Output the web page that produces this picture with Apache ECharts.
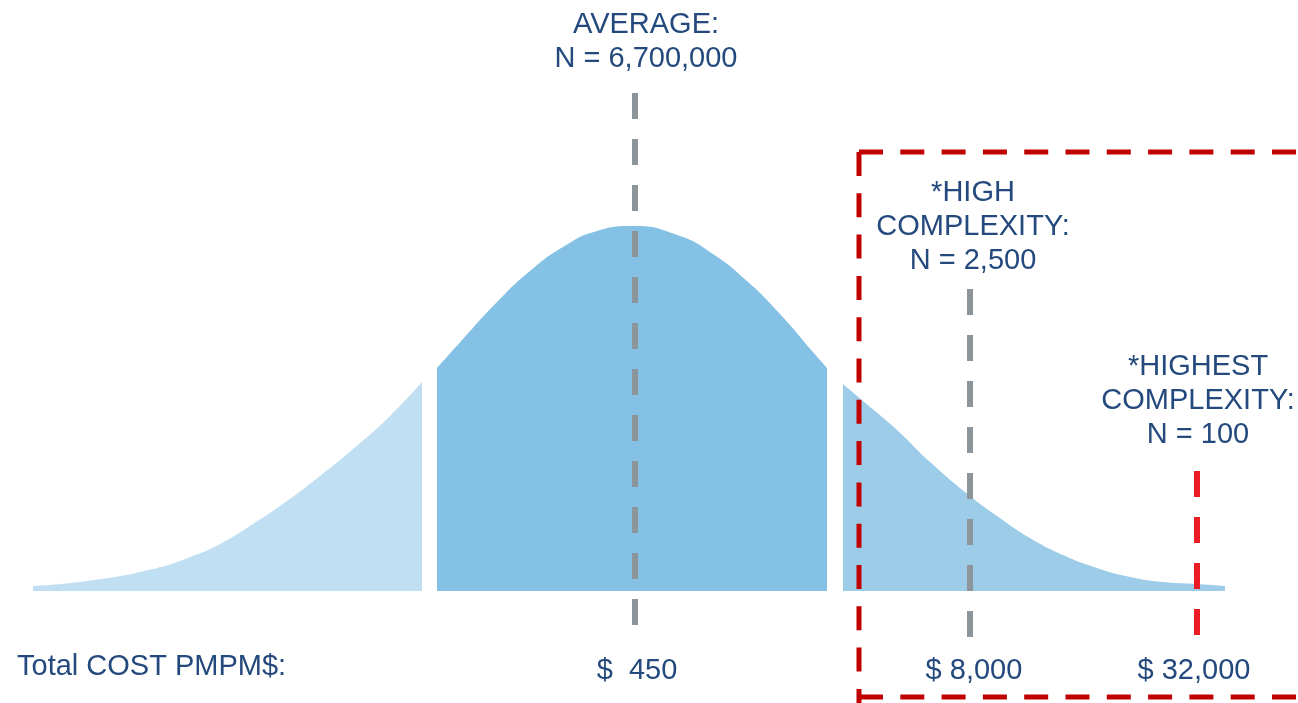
<!DOCTYPE html>
<html>
<head>
<meta charset="utf-8">
<title>Total cost PMPM distribution</title>
<script src="https://cdn.jsdelivr.net/npm/echarts@6/dist/echarts.min.js"></script>
<style>
  html, body { margin: 0; padding: 0; background: #fff; }
  #main { width: 1298px; height: 703px; }
</style>
</head>
<body>
<div id="main"></div>
<script>
// curve: [position, height], split in three bands
const leftBand = [[33, 5], [87, 10], [153, 22], [193, 35], [220, 47], [253, 67], [287, 90],
  [320, 115], [353, 142], [387, 172], [422, 209]];
const middleBand = [[437, 223], [463, 252], [497, 289], [530, 320], [563, 344], [597, 360],
  [633, 365], [680, 355], [713, 337], [747, 310], [780, 277], [813, 239], [827, 223]];
const rightBand = [[843, 207], [863, 190], [897, 161], [930, 129], [970, 95], [997, 75],
  [1030, 53], [1063, 36], [1097, 23], [1130, 14], [1163, 9], [1197, 7], [1225, 5]];

// markers: position on the curve, top / bottom of the dashed line
const markerX = [635, 970, 1197];
const markerTop = [498, 302, 120];
const markerBottom = [-46, -51, -46];
const markerTitles = ['AVERAGE:\nN = 6,700,000', '*HIGH\nCOMPLEXITY:\nN = 2,500', '*HIGHEST\nCOMPLEXITY:\nN = 100'];
const costLabels = ['$  450', '$ 8,000', '$ 32,000'];
const axisTitle = 'Total COST PMPM$:';

const TEXT = '#24497d';
const FONT = 'Liberation Sans, Arial, sans-serif';

let chart = echarts.init(document.getElementById('main'));

function band(name, data, color) {
    return {
        name: name,
        type: 'line',
        data: data,
        smooth: 0.5,
        symbol: 'none',
        lineStyle: { width: 0, opacity: 0 },
        areaStyle: { color: color, opacity: 1 },
        silent: true,
    };
}

const markerColors = ['#8b959a', '#8b959a', '#ec1c24'];
let markData = markerX.map((x, i) => [
    { coord: [x, markerTop[i]], lineStyle: { color: markerColors[i], width: 6, type: [26, 20] } },
    { coord: [x, markerBottom[i]] },
]);

let option = {
    animation: false,
    grid: { left: 0, right: 0, top: 0, bottom: 0 },
    xAxis: { type: 'value', min: 0, max: 1298, show: false },
    yAxis: { type: 'value', min: -112, max: 591, show: false },
    series: [
        band('low', leftBand, '#c0dff2'),
        band('average', middleBand, '#85c1e5'),
        band('high', rightBand, '#9dcce9'),
        {
            name: 'markers',
            type: 'line',
            data: [],
            markLine: {
                silent: true,
                symbol: 'none',
                label: { show: false },
                data: markData,
            },
        },
    ],
};
chart.setOption(option);

// annotations placed from the marker positions
let px = markerX.map(x => chart.convertToPixel({ xAxisIndex: 0 }, x));
const titleDx = [11, 3, 1];
const titleTop = [8, 176, 350];
const costDx = [2, 4, -3];

let graphics = [];
markerTitles.forEach((t, i) => {
    graphics.push({
        type: 'text', z: 100, silent: true,
        x: px[i] + titleDx[i], y: titleTop[i],
        style: { text: t, fill: TEXT, font: '29px ' + FONT, align: 'center', verticalAlign: 'top', lineHeight: 34 },
    });
});
costLabels.forEach((t, i) => {
    graphics.push({
        type: 'text', z: 100, silent: true,
        x: px[i] + costDx[i], y: 654,
        style: { text: t, fill: TEXT, font: '29px ' + FONT, align: 'center', verticalAlign: 'top', lineHeight: 34 },
    });
});
graphics.push({
    type: 'text', z: 100, silent: true, x: 17, y: 650,
    style: { text: axisTitle, fill: TEXT, font: '29px ' + FONT, align: 'left', verticalAlign: 'top', lineHeight: 34 },
});

// red dashed box round the high cost tail
const boxStyle = { stroke: '#c00000', lineWidth: 5, lineDash: [24, 17.3], fill: null };
[[859, 152, 859, 703], [859, 152, 1310, 152], [859, 697, 1310, 697]].forEach(s => {
    graphics.push({
        type: 'line', z: 90, silent: true,
        shape: { x1: s[0], y1: s[1], x2: s[2], y2: s[3] },
        style: boxStyle,
    });
});

chart.setOption({ graphic: graphics });
</script>
</body>
</html>
